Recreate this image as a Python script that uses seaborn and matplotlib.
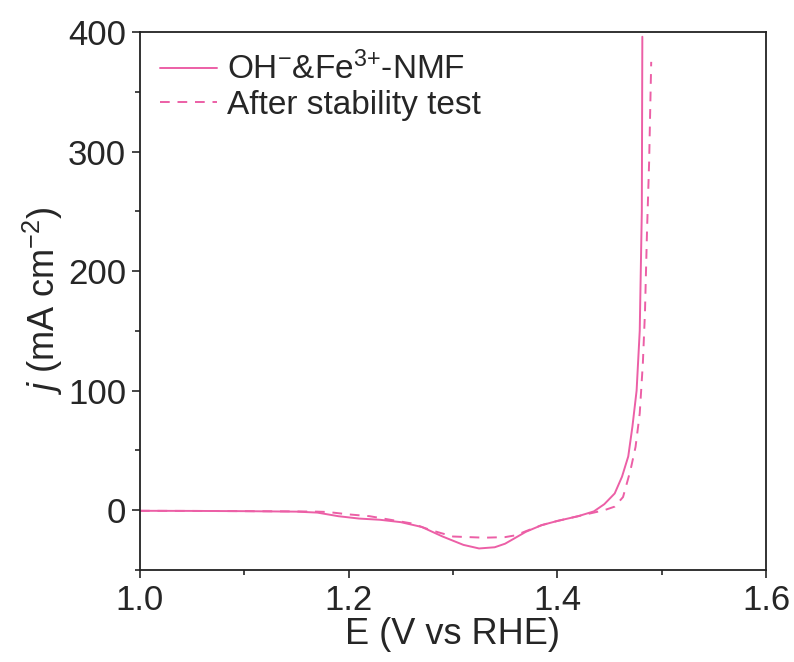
import numpy as np
import pandas as pd
import matplotlib
matplotlib.use("Agg")
import matplotlib.pyplot as plt
from matplotlib.ticker import MultipleLocator, FormatStrFormatter
import seaborn as sns

# values
fresh_E = [1.00, 1.05, 1.10, 1.15, 1.17, 1.19, 1.21, 1.23, 1.25, 1.27, 1.29,
           1.31, 1.325, 1.34, 1.35, 1.36, 1.37, 1.385, 1.40, 1.42, 1.435, 1.445,
           1.455, 1.462, 1.468, 1.472, 1.476, 1.479, 1.481, 1.4815]
fresh_j = [-0.5, -0.6, -0.8, -1.2, -2, -5, -7, -8, -10, -14, -22,
           -29, -32, -31, -28, -23, -18, -12.5, -9, -5, -1, 5,
           14, 28, 45, 70, 100, 150, 250, 396]

after_E = [1.00, 1.05, 1.10, 1.15, 1.17, 1.18, 1.20, 1.22, 1.24, 1.26, 1.28,
           1.30, 1.33, 1.35, 1.36, 1.37, 1.385, 1.40, 1.42, 1.435, 1.445, 1.455,
           1.463, 1.470, 1.475, 1.479, 1.482, 1.484, 1.486, 1.488, 1.490]
after_j = [-0.5, -0.6, -0.8, -1.0, -1.2, -1.5, -3.5, -5, -8, -11, -17,
           -22, -23, -22.5, -21, -17.5, -12.5, -9, -5, -2, 0, 3,
           11, 33, 53, 81, 123, 165, 234, 291, 375]

label_fresh = r'OH$^{-}$&Fe$^{3{+}}$-NMF'
label_after = 'After stability test'

sns.set_style("ticks")
plt.rcParams['font.family'] = ['Liberation Sans', 'DejaVu Sans']
plt.rcParams['mathtext.fontset'] = 'custom'
plt.rcParams['mathtext.rm'] = 'Liberation Sans'
plt.rcParams['mathtext.it'] = 'Liberation Sans:italic'

fresh = pd.DataFrame({"E": fresh_E, "j": fresh_j})
after = pd.DataFrame({"E": after_E, "j": after_j})

pink = '#ec5fa6'
fig = plt.figure(figsize=(7.94, 6.62), dpi=100)
ax = fig.add_axes([0.1763, 0.139, 0.7884, 0.8127])

sns.lineplot(data=fresh, x="E", y="j", ax=ax, color=pink, lw=1.4,
             sort=False, estimator=None, label=label_fresh)
sns.lineplot(data=after, x="E", y="j", ax=ax, color=pink, lw=1.4,
             sort=False, estimator=None, label=label_after,
             linestyle=(0, (5, 4)))

ax.set_xlim(1.0, 1.6)
ax.set_ylim(-50, 400)
ax.xaxis.set_major_locator(MultipleLocator(0.2))
ax.xaxis.set_minor_locator(MultipleLocator(0.1))
ax.xaxis.set_major_formatter(FormatStrFormatter('%.1f'))
ax.yaxis.set_major_locator(MultipleLocator(100))
ax.yaxis.set_minor_locator(MultipleLocator(50))
ax.tick_params(which='major', direction='out', length=6, width=1.2,
               labelsize=25, top=False, right=False, pad=4)
ax.tick_params(which='minor', direction='out', length=3.5, width=1.2,
               top=False, right=False)
for s in ax.spines.values():
    s.set_linewidth(1.3)
    s.set_color('#222222')

ax.set_xlabel('E (V vs RHE)', fontsize=26, labelpad=0)
ax.set_ylabel(r'$j$ (mA cm$^{-2}$)', fontsize=26, labelpad=2)

leg = ax.legend(loc='upper left', frameon=False, fontsize=24,
                handlelength=1.7, handletextpad=0.3, labelspacing=0.1,
                borderaxespad=0.2)

fig.savefig("out.png", dpi=100)
